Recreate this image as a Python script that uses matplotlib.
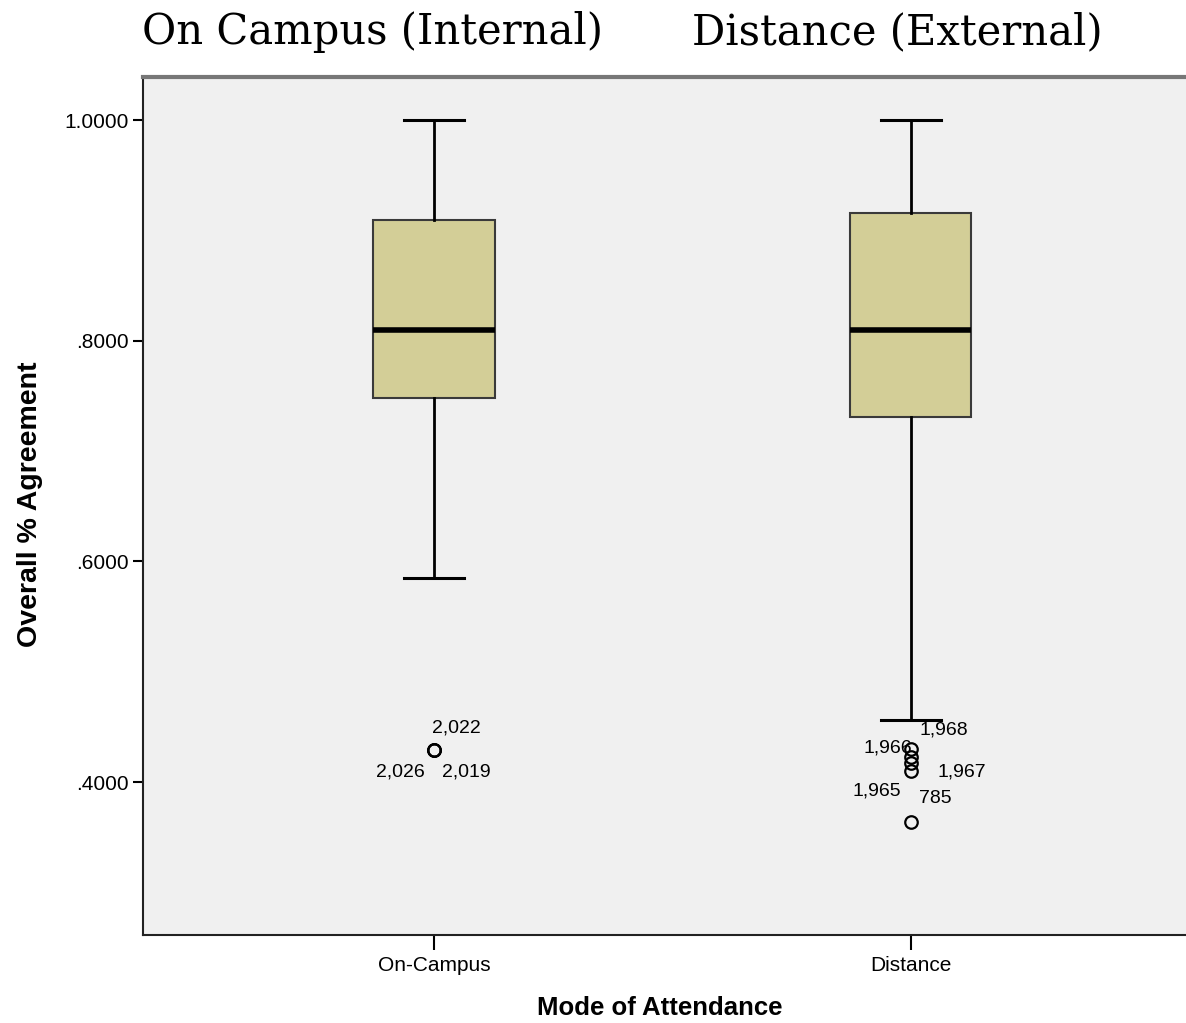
import matplotlib
matplotlib.use("Agg")
import matplotlib.pyplot as plt

# five-number summaries read per attendance mode
modes = ["On-Campus", "Distance"]
headings = ["On Campus (Internal)", "Distance (External)"]
whisker_low = [0.585, 0.456]
q1 = [0.748, 0.731]
median = [0.810, 0.810]
q3 = [0.909, 0.916]
whisker_high = [1.000, 1.000]

# outlying cases with their case numbers
on_campus_outliers = [0.429, 0.429, 0.429]
on_campus_ids = ["2,022", "2,026", "2,019"]
distance_outliers = [0.430, 0.4227, 0.4172, 0.410, 0.364]
distance_ids = ["1,966", "1,968", "1,967", "1,965", "785"]

yticks = [0.4, 0.6, 0.8, 1.0]
ytick_labels = [".4000", ".6000", ".8000", "1.0000"]

plt.rcParams["font.family"] = ["Liberation Sans", "DejaVu Sans"]

W, H = 1186, 1023
fig = plt.figure(figsize=(W / 100, H / 100), dpi=100)
ax = fig.add_axes([0.1206, 0.086, 0.8794, 0.8387])
ax.set_facecolor("#f0f0f0")

stats = []
for i in range(2):
    stats.append({
        "whislo": whisker_low[i], "q1": q1[i], "med": median[i],
        "q3": q3[i], "whishi": whisker_high[i],
        "fliers": on_campus_outliers if i == 0 else distance_outliers,
    })

ax.bxp(stats, positions=[0, 1], widths=0.254, patch_artist=True,
       boxprops=dict(facecolor="#d3ce97", edgecolor="#3a3a3a", linewidth=1.5),
       medianprops=dict(color="black", linewidth=4),
       whiskerprops=dict(color="black", linewidth=2),
       capprops=dict(color="black", linewidth=2.2),
       capwidths=0.127,
       flierprops=dict(marker="o", markersize=9, markerfacecolor="none",
                       markeredgecolor="black", markeredgewidth=1.6))

# case labels next to outliers, offsets in pixels
campus_offsets = [(22, 22), (-34, -22), (32, -22)]
for v, lab, off in zip(on_campus_outliers, on_campus_ids, campus_offsets):
    ax.annotate(lab, (0, v), xytext=off, textcoords="offset pixels",
                ha="center", va="center", fontsize=14)

distance_offsets = [(-23, 1), (33, 27), (51, -9), (-34, -20), (24, 23)]
for v, lab, off in zip(distance_outliers, distance_ids, distance_offsets):
    ax.annotate(lab, (1, v), xytext=off, textcoords="offset pixels",
                ha="center", va="center", fontsize=14)

ax.set_xlim(-0.61, 1.577)
ax.set_ylim(0.2613, 1.039)
ax.set_xticks([0, 1])
ax.set_xticklabels(modes, fontsize=15)
ax.set_yticks(yticks)
ax.set_yticklabels(ytick_labels, fontsize=15)
ax.tick_params(axis="y", length=7, width=1.5)
ax.tick_params(axis="x", length=11, width=1.5, pad=4)

fig.text(660 / W, 1 - 1008 / H, "Mode of Attendance", fontsize=18.5,
         fontweight="bold", ha="center", va="center")
fig.text(30 / W, 1 - 504 / H, "Overall % Agreement", fontsize=20.5,
         fontweight="bold", ha="center", va="center", rotation=90)

for side in ["left", "bottom"]:
    ax.spines[side].set_linewidth(1.5)
    ax.spines[side].set_color("#222222")
ax.spines["top"].set_linewidth(3)
ax.spines["top"].set_color("#777777")
ax.spines["right"].set_visible(False)

# headings over each group
for x, h in zip([372, 897], headings):
    fig.text(x / W, 1 - 32 / H, h, family="DejaVu Serif", fontsize=30,
             ha="center", va="center")

fig.savefig("out.png", dpi=100)
